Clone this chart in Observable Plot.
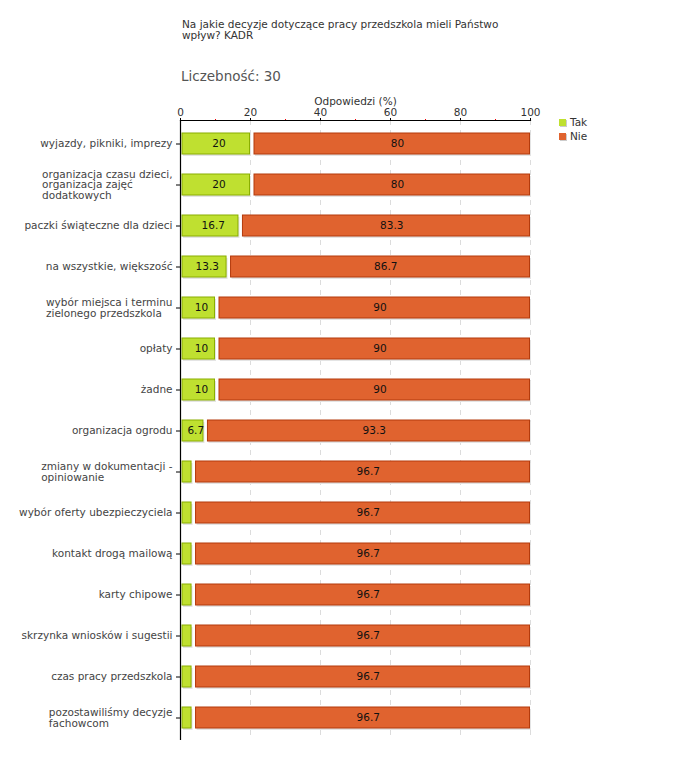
<!DOCTYPE html>
<html>
<head>
<meta charset="utf-8">
<script src="https://cdn.jsdelivr.net/npm/d3@7"></script>
<script src="https://cdn.jsdelivr.net/npm/@observablehq/plot@0.6"></script>
<style>
  body { margin: 0; background: #fff; }
  #wrap { position: relative; width: 680px; height: 760px; font-family: "DejaVu Sans", Verdana, sans-serif; }
  .abs { position: absolute; white-space: nowrap; }
  #chart { position: absolute; left: 0; top: 0; }
  .sw { display: inline-block; width: 7px; height: 7px; margin-right: 4px; box-shadow: 1px 1px 0 #ccc; }
</style>
</head>
<body>
<div id="wrap">
  <div class="abs" id="title" style="left:182px; top:19px; font-size:10.5px; line-height:11px; color:#333;"></div>
  <div class="abs" id="count" style="left:181px; top:68px; font-size:13.5px; color:#555;"></div>
  <div class="abs" id="legend" style="left:559px; top:115px; font-size:10.5px; line-height:14px; color:#333;"></div>
  <div id="chart"></div>
</div>
<script>
const titleLines = ["Na jakie decyzje dotyczące pracy przedszkola mieli Państwo", "wpływ? KADR"];
const countLabel = "Liczebność: 30";
const axisTitle = "Odpowiedzi (%)";
const categories = [
  "wyjazdy, pikniki, imprezy",
  "organizacja czasu dzieci,\norganizacja zajęć\ndodatkowych",
  "paczki świąteczne dla dzieci",
  "na wszystkie, większość",
  "wybór miejsca i terminu\nzielonego przedszkola",
  "opłaty",
  "żadne",
  "organizacja ogrodu",
  "zmiany w dokumentacji -\nopiniowanie",
  "wybór oferty ubezpieczyciela",
  "kontakt drogą mailową",
  "karty chipowe",
  "skrzynka wniosków i sugestii",
  "czas pracy przedszkola",
  "pozostawiliśmy decyzje\nfachowcom"
];
const tak = [20, 20, 16.7, 13.3, 10, 10, 10, 6.7, 3.3, 3.3, 3.3, 3.3, 3.3, 3.3, 3.3];
const nie = [80, 80, 83.3, 86.7, 90, 90, 90, 93.3, 96.7, 96.7, 96.7, 96.7, 96.7, 96.7, 96.7];
const seriesNames = ["Tak", "Nie"];
const fills = ["#bfe030", "#e0632f"];
const strokes = ["#8aae00", "#b33a0c"];
const majorTicks = [0, 20, 40, 60, 80, 100];
const minorTicks = [10, 30, 50, 70, 90];
const gridTicks = [20, 40, 60, 80, 100];

document.getElementById("title").innerHTML = titleLines.join("<br>");
document.getElementById("count").textContent = countLabel;
document.getElementById("legend").innerHTML = seriesNames.map((s, i) =>
  `<div><span class="sw" style="background:${fills[i]}"></span>${s}</div>`).join("");

// segments built from the arrays
const rows = [];
categories.forEach((c, i) => {
  rows.push({cat: c, series: "Tak", x1: 0, x2: tak[i], v: tak[i], s: 0});
  rows.push({cat: c, series: "Nie", x1: tak[i], x2: tak[i] + nie[i], v: nie[i], s: 1});
});
const takRows = rows.filter(d => d.s === 0);
const nieRows = rows.filter(d => d.s === 1);

const chart = Plot.plot({
  width: 680,
  height: 760,
  marginTop: 120,
  marginLeft: 180,
  marginRight: 150,
  marginBottom: 20,
  style: {fontFamily: "DejaVu Sans, Verdana, sans-serif", fontSize: "10.5px", background: "transparent"},
  x: {domain: [0, 100], axis: null},
  y: {domain: categories, paddingInner: 0.5, paddingOuter: 0.25, axis: null},
  marks: [
    Plot.gridX(gridTicks, {stroke: "#dcdcdc", strokeOpacity: 1, strokeDasharray: "5,5"}),
    // shadows
    Plot.rect(takRows, {x1: "x1", x2: "x2", y: "cat", fill: "#e4e4e4", insetLeft: 2, insetRight: 0, dx: 1, dy: 2}),
    Plot.rect(nieRows, {x1: "x1", x2: "x2", y: "cat", fill: "#e4e4e4", insetLeft: 4, insetRight: 0, dx: 1, dy: 2}),
    // bars
    Plot.rect(takRows, {x1: "x1", x2: "x2", y: "cat", fill: fills[0], stroke: strokes[0], strokeWidth: 1, insetLeft: 2, insetRight: 0.5}),
    Plot.rect(nieRows, {x1: "x1", x2: "x2", y: "cat", fill: fills[1], stroke: strokes[1], strokeWidth: 1, insetLeft: 4, insetRight: 0.5}),
    Plot.text(rows.filter(d => d.v > 5), {x: d => (d.x1 + d.x2) / 2 + (d.s ? 2 : 1), y: "cat", text: d => String(d.v), fill: "#111", fontSize: 10.5}),
    Plot.axisX({anchor: "top", ticks: majorTicks, tickSize: 3, tickPadding: 2, label: null, fill: "#333", stroke: "#000", fontSize: 10.5}),
    Plot.axisX({anchor: "top", ticks: minorTicks, tickSize: 2, text: null, label: null, stroke: "#e00"}),
    Plot.axisY({ticks: categories, tickSize: 4, tickPadding: 4, label: null, fill: "#444", stroke: "#000", lineHeight: 1, fontSize: 10.5}),
    Plot.ruleX([0], {stroke: "#000", strokeWidth: 1.2}),
    Plot.frame({anchor: "top", stroke: "#000", strokeWidth: 1.2}),
    Plot.text([axisTitle], {frameAnchor: "top", lineAnchor: "bottom", dy: -16, fill: "#333", fontSize: 10.5})
  ]
});
document.getElementById("chart").appendChild(chart);

// left-align multi-line category labels inside their right-aligned block
chart.querySelectorAll('g[aria-label="y-axis tick label"] text').forEach(t => {
  const spans = t.querySelectorAll("tspan");
  if (spans.length > 1) {
    let maxW = 0;
    spans.forEach(s => { maxW = Math.max(maxW, s.getComputedTextLength()); });
    t.setAttribute("text-anchor", "start");
    spans.forEach(s => s.setAttribute("x", -maxW + (+(s.getAttribute("x") || 0))));
  }
});
</script>
</body>
</html>
